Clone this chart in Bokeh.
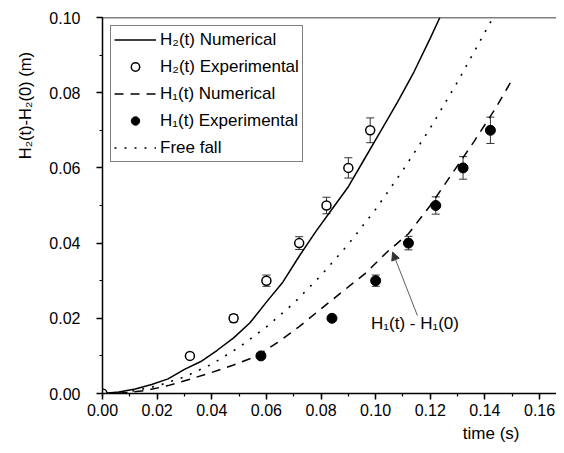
from bokeh.plotting import figure
from bokeh.models import (ColumnDataSource, Whisker, TeeHead, Label, Arrow, NormalHead, Title,
                          Span, SingleIntervalTicker, NumeralTickFormatter, Legend, LegendItem, Range1d)
from bokeh.embed import file_html
from bokeh.resources import INLINE

# ---- data ----
t_h2_num = [0.0, 0.006, 0.012, 0.018, 0.024, 0.030, 0.036, 0.042, 0.048, 0.054, 0.060, 0.066,
            0.072, 0.078, 0.084, 0.090, 0.096, 0.102, 0.108, 0.114, 0.120, 0.1235]
h2_num = [0.0, 0.0004, 0.0012, 0.0024, 0.0039, 0.0064, 0.0085, 0.0115, 0.0148, 0.0188, 0.0243, 0.0296,
          0.0365, 0.0430, 0.0490, 0.0550, 0.0625, 0.0700, 0.0775, 0.0855, 0.0945, 0.1000]

t_h2_exp = [0.0, 0.032, 0.048, 0.060, 0.072, 0.082, 0.090, 0.098]
h2_exp = [0.0, 0.01, 0.02, 0.03, 0.04, 0.05, 0.06, 0.07]
h2_err = [0.0, 0.0005, 0.0010, 0.0015, 0.0017, 0.0022, 0.0027, 0.0033]

t_h1_num = [0.0, 0.008, 0.016, 0.024, 0.032, 0.040, 0.048, 0.056, 0.064, 0.072, 0.080, 0.088,
            0.096, 0.104, 0.112, 0.120, 0.128, 0.136, 0.144, 0.150]
h1_num = [0.0, 0.0002, 0.0008, 0.0021, 0.0038, 0.0056, 0.0076, 0.0098, 0.0135, 0.0178, 0.0225, 0.0272,
          0.0318, 0.0375, 0.0425, 0.0500, 0.0585, 0.0670, 0.0760, 0.0835]

t_h1_exp = [0.058, 0.084, 0.100, 0.112, 0.122, 0.132, 0.142]
h1_exp = [0.01, 0.02, 0.03, 0.04, 0.05, 0.06, 0.07]
h1_err = [0.0, 0.0005, 0.0015, 0.0018, 0.0023, 0.0030, 0.0035]

t_free = [0.0, 0.01, 0.02, 0.03, 0.04, 0.05, 0.06, 0.07, 0.08, 0.09, 0.10, 0.11, 0.12, 0.13, 0.14, 0.143]
h_free = [0.0, 0.0005, 0.0020, 0.0044, 0.0078, 0.0123, 0.0177, 0.0240, 0.0314, 0.0397, 0.0490,
          0.0594, 0.0706, 0.0829, 0.0961, 0.1000]

legend_labels = ["H₂(t) Numerical", "H₂(t) Experimental", "H₁(t) Numerical",
                 "H₁(t) Experimental", "Free fall"]
x_label = "time (s)"
y_label = "H₂(t)-H₂(0)  (m)"
note_text = "H₁(t) - H₁(0)"

FONT = "Liberation Sans"
FS = "16px"
FS_BIG = "17px"

p = figure(width=556, height=445, output_backend="svg", toolbar_location=None,
           x_range=Range1d(0, 0.1662), y_range=Range1d(0, 0.1),
           min_border_left=101, min_border_right=0, min_border_top=17, min_border_bottom=52)
p.outline_line_color = None
p.xgrid.visible = False
p.ygrid.visible = False
p.background_fill_color = "white"
p.border_fill_color = "white"

for ax in (p.xaxis[0], p.yaxis[0]):
    ax.ticker = SingleIntervalTicker(interval=0.02, num_minor_ticks=2)
    ax.formatter = NumeralTickFormatter(format="0.00")
    ax.axis_line_color = "black"
    ax.axis_line_width = 1.5
    ax.major_tick_line_color = "black"
    ax.major_tick_line_width = 1.5
    ax.minor_tick_line_color = "black"
    ax.minor_tick_line_width = 1.2
    ax.major_tick_in = 0
    ax.major_tick_out = 6
    ax.minor_tick_in = 0
    ax.minor_tick_out = 3
    ax.major_label_text_font = FONT
    ax.major_label_text_font_size = FS
    ax.major_label_text_color = "black"
p.xaxis[0].major_label_standoff = 4
p.yaxis[0].major_label_standoff = 16

p.add_layout(Span(location=0.1, dimension="width", line_color="black", line_width=1.5))

# error bars
src2 = ColumnDataSource(dict(x=t_h2_exp, y=h2_exp,
                             lo=[a - e for a, e in zip(h2_exp, h2_err)],
                             hi=[a + e for a, e in zip(h2_exp, h2_err)]))
src1 = ColumnDataSource(dict(x=t_h1_exp, y=h1_exp,
                             lo=[a - e for a, e in zip(h1_exp, h1_err)],
                             hi=[a + e for a, e in zip(h1_exp, h1_err)]))
for s in (src2, src1):
    w = Whisker(source=s, base="x", lower="lo", upper="hi", level="underlay",
                line_color="#333333", line_width=1,
                upper_head=TeeHead(size=8, line_color="#333333", line_width=1),
                lower_head=TeeHead(size=8, line_color="#333333", line_width=1))
    p.add_layout(w)

r_h2n = p.line(t_h2_num, h2_num, line_color="black", line_width=1.5)
r_h1n = p.line(t_h1_num, h1_num, line_color="black", line_width=1.5, line_dash="9 7")
r_free = p.line(t_free, h_free, line_color="black", line_width=1.6, line_dash="2 8")
r_h2e = p.scatter("x", "y", source=src2, size=9, marker="circle", fill_color="white",
                  line_color="black", line_width=1.5)
r_h1e = p.scatter("x", "y", source=src1, size=10, marker="circle", fill_color="black",
                  line_color="black")

legend = Legend(items=[
    LegendItem(label=legend_labels[0], renderers=[r_h2n]),
    LegendItem(label=legend_labels[1], renderers=[r_h2e]),
    LegendItem(label=legend_labels[2], renderers=[r_h1n]),
    LegendItem(label=legend_labels[3], renderers=[r_h1e]),
    LegendItem(label=legend_labels[4], renderers=[r_free]),
], location="top_left")
legend.margin = 8
legend.padding = 3
legend.spacing = 6
legend.glyph_width = 42
legend.glyph_height = 21
legend.label_height = 21
legend.label_standoff = 4
legend.label_text_font = FONT
legend.label_text_font_size = FS_BIG
legend.label_text_color = "black"
legend.border_line_color = "black"
legend.border_line_width = 1
legend.background_fill_color = "white"
legend.background_fill_alpha = 1
p.add_layout(legend, "center")

# annotation
p.add_layout(Arrow(x_start=0.1153, y_start=0.0207, x_end=0.1062, y_end=0.0376,
                   line_color="#333333", line_width=0.8,
                   end=NormalHead(size=8, fill_color="#333333", line_color="#333333")))
p.add_layout(Label(x=0.0983, y=0.0186, text=note_text, text_font=FONT, text_font_size=FS_BIG,
                   text_align="left", text_baseline="middle", text_color="black"))

# axis titles as side titles
xt = Title(text=x_label, align="right", offset=37, standoff=6, text_font=FONT,
           text_font_size=FS_BIG, text_font_style="normal", text_color="black")
p.add_layout(xt, "below")
yt = Title(text=y_label, align="right", offset=30, standoff=26, text_font=FONT,
           text_font_size="16.5px", text_font_style="normal", text_color="black")
p.add_layout(yt, "left")

open("out.html", "w").write(file_html(p, INLINE))
